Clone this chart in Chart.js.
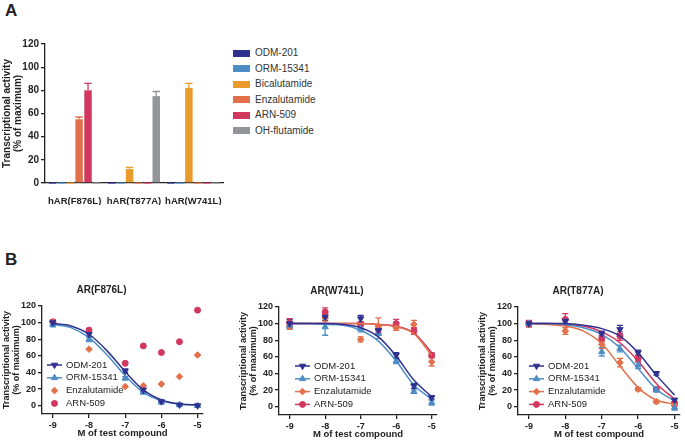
<!DOCTYPE html>
<html>
<head>
<meta charset="utf-8">
<script src="https://cdn.jsdelivr.net/npm/chart.js@4.4.1/dist/chart.umd.min.js"></script>
<style>
  body { margin: 0; background: #fff; }
  #wrap { position: relative; width: 685px; height: 441px; overflow: hidden; font-family: 'Liberation Sans', Arial, sans-serif; color: #222; }
  canvas { position: absolute; }
  .panel { position: absolute; font-weight: bold; font-size: 17px; line-height: 17px; }
  .legend { position: absolute; left: 233px; top: 45px; font-size: 10px; color: #333; }
  .legend div { height: 15.6px; line-height: 15.6px; white-space: nowrap; }
  .legend span { display: inline-block; width: 17px; height: 7px; margin-right: 5px; vertical-align: -0.5px; }
</style>
</head>
<body>
<div id="wrap">
  <div class="panel" style="left:5px;top:2px">A</div>
  <div class="panel" style="left:5px;top:251px">B</div>
  <div class="legend" id="legendA"></div>
  <canvas id="barA" width="228" height="171" style="left:0px;top:34px"></canvas>
  <canvas id="f876l" width="208" height="163" style="left:0px;top:278px"></canvas>
  <canvas id="w741l" width="205" height="163" style="left:237px;top:279px"></canvas>
  <canvas id="t877a" width="209" height="163" style="left:476px;top:279px"></canvas>
</div>
<script>
// panel A
const mutantsA = ['hAR(F876L)', 'hAR(T877A)', 'hAR(W741L)']
const compoundsA = ['ODM-201', 'ORM-15341', 'Bicalutamide', 'Enzalutamide', 'ARN-509', 'OH-flutamide']
const odmA = [0, 0, 0]
const ormA = [0, 0, 0]
const bicA = [0, 12, 82]
const enzA = [55, 0, 0]
const arnA = [80, 0, 0]
const ohfA = [0, 75, 0]
const bicErrA = [0, 1.5, 4]
const enzErrA = [2, 0, 0]
const arnErrA = [6, 0, 0]
const ohfErrA = [0, 4, 0]
const zeroErrA = [0, 0, 0]
const yTicksA = [0, 20, 40, 60, 80, 100, 120]

// panel B
const doses = [-9, -8, -7, -6.5, -6, -5.5, -5]
const fitDoses = [-9, -8.5, -8, -7.5, -7, -6.5, -6, -5.5, -5]
const xTicksB = [-9, -8, -7, -6, -5]
const yTicksB = [0, 20, 40, 60, 80, 100, 120]

const f876lOdm = [100, 86, 42, 19, 5, 1, 0]
const f876lOdmErr = [3, 3, 2, 2, 1, 1, 2]
const f876lOrm = [98, 80, 33, 16, 4, 1, 0]
const f876lOrmErr = [3, 3, 2, 1, 1, 1, 1]
const f876lEnz = [100, 68, 23, 24, 26, 35, 61]
const f876lArn = [101, 91, 51, 72, 64, 77, 115]
const f876lOdmFit = [99, 96, 86, 66, 41, 19, 7, 2, 1]
const f876lOrmFit = [98, 94, 82, 61, 36, 16, 6, 2, 1]

const w741lOdm = [100, 108, 106, 92, 62, 25, 11]
const w741lOdmErr = [5, 4, 4, 5, 3, 3, 2]
const w741lOrm = [98, 96, 94, 88, 55, 18, 5]
const w741lOrmErr = [4, 10, 4, 6, 3, 2, 3]
const w741lEnz = [97, 107, 81, 97, 95, 99, 54]
const w741lEnzErr = [4, 4, 3, 10, 3, 5, 5]
const w741lArn = [101, 114, 99, 93, 100, 91, 62]
const w741lArnErr = [5, 5, 3, 4, 5, 4, 3]
const w741lOdmFit = [100, 100, 100, 99, 95, 84, 61, 32, 12]
const w741lOrmFit = [100, 100, 99, 98, 92, 79, 55, 26, 9]
const w741lEnzFit = [100, 100, 100, 100, 100, 99, 96, 88, 62]
const w741lArnFit = [100, 100, 100, 100, 100, 99, 97, 89, 65]

const t877aOdm = [100, 103, 88, 93, 65, 40, 8]
const t877aOdmErr = [3, 3, 3, 5, 3, 2, 2]
const t877aOrm = [100, 101, 66, 70, 50, 20, -1]
const t877aOrmErr = [3, 3, 5, 4, 4, 2, 3]
const t877aEnz = [99, 91, 75, 53, 21, 6, 2]
const t877aEnzErr = [3, 4, 5, 5, 2, 2, 2]
const t877aArn = [100, 105, 82, 85, 58, 21, 4]
const t877aArnErr = [4, 7, 4, 5, 4, 2, 2]
const t877aOdmFit = [100, 100, 100, 98, 94, 85, 65, 38, 14]
const t877aOrmFit = [100, 100, 99, 95, 87, 71, 46, 21, 7]
const t877aEnzFit = [100, 99, 97, 91, 76, 49, 23, 8, 3]
const t877aArnFit = [100, 100, 99, 97, 90, 77, 55, 28, 9]

const colors = {
    'ODM-201': '#2f3190',
    'ORM-15341': '#4d8dc6',
    'Bicalutamide': '#eb9a2d',
    'Enzalutamide': '#e2704a',
    'ARN-509': '#d2375f',
    'OH-flutamide': '#939598'
}
const markers = {
    'ODM-201': { style: 'triangle', rotation: 180, radius: 3.6 },
    'ORM-15341': { style: 'triangle', rotation: 0, radius: 3.6 },
    'Enzalutamide': { style: 'rectRot', rotation: 0, radius: 3.3 },
    'ARN-509': { style: 'circle', rotation: 0, radius: 3 }
}

const FONT = "'Liberation Sans', Arial, sans-serif"
Chart.defaults.font.family = FONT
Chart.defaults.color = '#222'

// html legend for panel A
const legendA = document.getElementById('legendA')
compoundsA.forEach(c => {
    const row = document.createElement('div')
    const sw = document.createElement('span')
    sw.style.background = colors[c]
    row.appendChild(sw)
    row.appendChild(document.createTextNode(c))
    legendA.appendChild(row)
})

const errorBars = {
    id: 'errorBars',
    beforeDatasetsDraw(chart) {
        const ctx = chart.ctx
        const yScale = chart.scales.y
        chart.data.datasets.forEach((ds, i) => {
            if (!ds.errors) return
            const meta = chart.getDatasetMeta(i)
            ctx.save()
            ctx.strokeStyle = ds.borderColor
            ctx.lineWidth = 1.3
            meta.data.forEach((el, j) => {
                const raw = ds.data[j]
                const v = typeof raw === 'object' ? raw.y : raw
                const e = ds.errors[j]
                const hi = yScale.getPixelForValue(v + e)
                const lo = ds.errorUp ? yScale.getPixelForValue(v) : yScale.getPixelForValue(v - e)
                const half = ds.errorUp ? el.width / 2 : 3
                ctx.beginPath()
                ctx.moveTo(el.x, lo)
                ctx.lineTo(el.x, hi)
                ctx.moveTo(el.x - half, hi)
                ctx.lineTo(el.x + half, hi)
                if (!ds.errorUp) {
                    ctx.moveTo(el.x - half, lo)
                    ctx.lineTo(el.x + half, lo)
                }
                ctx.stroke()
            })
            ctx.restore()
        })
    }
}

const insetLegend = {
    id: 'insetLegend',
    afterDatasetsDraw(chart, args, opts) {
        if (opts.left === undefined) return
        const ctx = chart.ctx
        const a = chart.chartArea
        ctx.save()
        ctx.font = '9.5px ' + FONT
        ctx.textBaseline = 'middle'
        let y = a.top + opts.top
        chart.data.datasets.filter(d => !d.isFit).forEach(d => {
            const x = a.left + opts.left
            ctx.strokeStyle = d.borderColor
            ctx.fillStyle = d.borderColor
            if (d.hasFit) {
                ctx.lineWidth = 1.5
                ctx.beginPath()
                ctx.moveTo(x, y)
                ctx.lineTo(x + 15, y)
                ctx.stroke()
            }
            ctx.lineWidth = 1
            Chart.helpers.drawPoint(ctx, { pointStyle: d.pointStyle, rotation: d.pointRotation, radius: d.pointRadius, borderWidth: 1 }, x + 7.5, y)
            ctx.fillStyle = '#222'
            ctx.fillText(d.label, x + 19, y)
            y += opts.gap
        })
        ctx.restore()
    }
}

const axisFont = { size: 10, weight: 'bold' }
const yTitle = ['Transcriptional activity', '(% of maximum)']

new Chart(document.getElementById('barA'), {
    type: 'bar',
    data: {
        labels: mutantsA,
        datasets: [
            [odmA, zeroErrA], [ormA, zeroErrA], [bicA, bicErrA],
            [enzA, enzErrA], [arnA, arnErrA], [ohfA, ohfErrA]
        ].map((p, i) => ({
            label: compoundsA[i],
            data: p[0],
            errors: p[1],
            errorUp: true,
            backgroundColor: colors[compoundsA[i]],
            borderColor: colors[compoundsA[i]],
            categoryPercentage: 0.9,
            barPercentage: 0.84
        }))
    },
    options: {
        responsive: false,
        animation: false,
        layout: { padding: { top: 10, right: 5, left: 0, bottom: 0 } },
        plugins: { legend: { display: false }, tooltip: { enabled: false } },
        scales: {
            x: {
                grid: { display: false },
                border: { color: '#222', width: 1.3 },
                ticks: { color: '#222', font: { size: 9.5, weight: 'bold' }, padding: 5, maxRotation: 0, autoSkip: false },
                afterFit: s => { s.height = 22 }
            },
            y: {
                min: 0,
                max: 120,
                afterBuildTicks: s => { s.ticks = yTicksA.map(v => ({ value: v })) },
                grid: { drawOnChartArea: false, tickLength: 4, color: '#222', lineWidth: 1.3 },
                border: { color: '#222', width: 1.3 },
                ticks: { color: '#222', font: axisFont, padding: 2 },
                title: { display: true, text: yTitle, color: '#222', font: { size: 10, weight: 'bold', lineHeight: 1.1 }, padding: { top: 2, bottom: 0 } },
                afterFit: s => { s.width = 45 }
            }
        }
    },
    plugins: [errorBars]
})

function curvePanel(id, title, rows, legendLeft) {
    const datasets = []
    rows.forEach(r => {
        const [name, values, errors, fit] = r
        const m = markers[name]
        datasets.push({
            label: name,
            data: values.map((v, i) => ({ x: doses[i], y: v })),
            errors: errors,
            showLine: false,
            borderColor: colors[name],
            backgroundColor: colors[name],
            pointStyle: m.style,
            pointRotation: m.rotation,
            pointRadius: m.radius,
            pointBorderWidth: 1,
            hasFit: !!fit
        })
        if (fit) {
            datasets.push({
                label: name + ' fit',
                data: fit.map((v, i) => ({ x: fitDoses[i], y: v })),
                borderColor: colors[name],
                borderWidth: 1.5,
                pointRadius: 0,
                cubicInterpolationMode: 'monotone',
                isFit: true
            })
        }
    })

    new Chart(document.getElementById(id), {
        type: 'line',
        data: { datasets },
        options: {
            responsive: false,
            animation: false,
            layout: { padding: { top: 0, right: 5, left: 0, bottom: 0 } },
            plugins: {
                legend: { display: false },
                tooltip: { enabled: false },
                title: { display: true, text: title, color: '#222', font: { size: 10, weight: 'bold', lineHeight: 1.2 }, padding: { top: 6, bottom: 10 } },
                insetLegend: { left: legendLeft, top: 59, gap: 12.8 }
            },
            scales: {
                x: {
                    type: 'linear',
                    min: -9.3,
                    max: -4.85,
                    afterBuildTicks: s => { s.ticks = xTicksB.map(v => ({ value: v })) },
                    grid: { drawOnChartArea: false, tickLength: 4, color: '#222', lineWidth: 1.3 },
                    border: { color: '#222', width: 1.3 },
                    ticks: { color: '#222', font: { size: 9, weight: 'bold' }, padding: 2 },
                    title: { display: true, text: 'M of test compound', color: '#222', font: { size: 9.5, weight: 'bold', lineHeight: 1.1 }, padding: { top: 0, bottom: 2 } },
                    afterFit: s => { s.height = 27 }
                },
                y: {
                    min: -10,
                    max: 120,
                    afterBuildTicks: s => { s.ticks = yTicksB.map(v => ({ value: v })) },
                    grid: { drawOnChartArea: false, tickLength: 4, color: '#222', lineWidth: 1.3 },
                    border: { color: '#222', width: 1.3 },
                    ticks: { color: '#222', font: { size: 9, weight: 'bold' }, padding: 2 },
                    title: { display: true, text: yTitle, color: '#222', font: { size: 9, weight: 'bold', lineHeight: 1.1 }, padding: { top: 2, bottom: 0 } },
                    afterFit: s => { s.width = 42 }
                }
            }
        },
        plugins: [errorBars, insetLegend]
    })
}

curvePanel('f876l', 'AR(F876L)', [
    ['ODM-201', f876lOdm, f876lOdmErr, f876lOdmFit],
    ['ORM-15341', f876lOrm, f876lOrmErr, f876lOrmFit],
    ['Enzalutamide', f876lEnz, null, null],
    ['ARN-509', f876lArn, null, null]
], 5)

curvePanel('w741l', 'AR(W741L)', [
    ['ODM-201', w741lOdm, w741lOdmErr, w741lOdmFit],
    ['ORM-15341', w741lOrm, w741lOrmErr, w741lOrmFit],
    ['Enzalutamide', w741lEnz, w741lEnzErr, w741lEnzFit],
    ['ARN-509', w741lArn, w741lArnErr, w741lArnFit]
], 16)

curvePanel('t877a', 'AR(T877A)', [
    ['ODM-201', t877aOdm, t877aOdmErr, t877aOdmFit],
    ['ORM-15341', t877aOrm, t877aOrmErr, t877aOrmFit],
    ['Enzalutamide', t877aEnz, t877aEnzErr, t877aEnzFit],
    ['ARN-509', t877aArn, t877aArnErr, t877aArnFit]
], 11)
</script>
</body>
</html>
